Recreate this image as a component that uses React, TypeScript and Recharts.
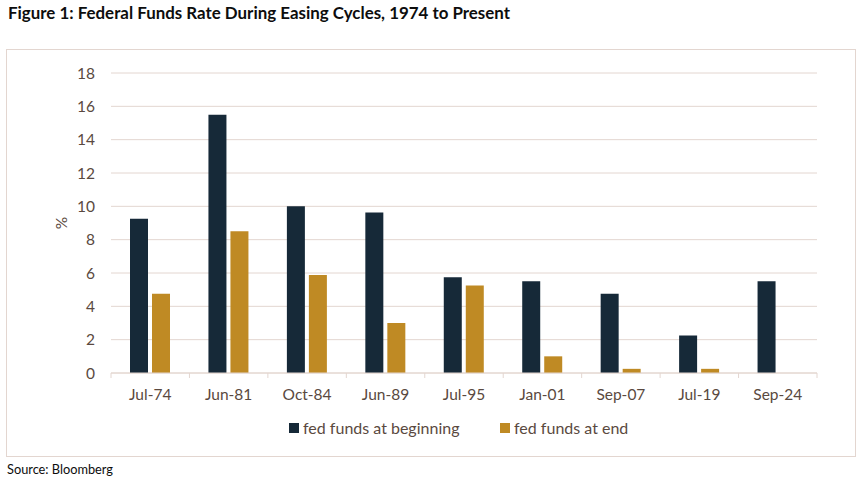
import React from 'react';
import { BarChart, Bar, XAxis, YAxis, CartesianGrid, Legend } from 'recharts';

const categories = ['Jul-74', 'Jun-81', 'Oct-84', 'Jun-89', 'Jul-95', 'Jan-01', 'Sep-07', 'Jul-19', 'Sep-24'];
const fedFundsAtBeginning = [9.25, 15.5, 10.0, 9.625, 5.75, 5.5, 4.75, 2.25, 5.5];
const fedFundsAtEnd: (number | null)[] = [4.75, 8.5, 5.875, 3.0, 5.25, 1.0, 0.25, 0.25, null];
const yTicks = [0, 2, 4, 6, 8, 10, 12, 14, 16, 18];
const seriesNames = ['fed funds at beginning', 'fed funds at end'];
const titleText = 'Figure 1: Federal Funds Rate During Easing Cycles, 1974 to Present';
const sourceText = 'Source: Bloomberg';

const data = categories.map((c, i) => ({
  name: c,
  begin: fedFundsAtBeginning[i],
  end: fedFundsAtEnd[i],
}));

const W = 863;
const H = 486;
const MARGIN = { top: 73, right: 46, left: 51, bottom: 83 };
const Y_AXIS_W = 60;
const X_AXIS_H = 30;
const PLOT_W = W - MARGIN.left - MARGIN.right - Y_AXIS_W;
const BAND = PLOT_W / categories.length;

const DARK = '#162938';
const GOLD = '#bf8a24';
const TEXT = '#5a4940';
const GRID = '#e3d6d0';
const FONT = 'Lato, "Open Sans", sans-serif';

const XTick = (props: any) => {
  const { x, y, index } = props;
  const axisY = y - 8;
  const left = x - BAND / 2;
  const right = x + BAND / 2;
  return (
    <g>
      <line x1={left} y1={axisY} x2={left} y2={axisY + 5} stroke={GRID} strokeWidth={1} />
      {index === categories.length - 1 && (
        <line x1={right} y1={axisY} x2={right} y2={axisY + 5} stroke={GRID} strokeWidth={1} />
      )}
      <text x={x} y={y + 19} textAnchor="middle" fill={TEXT} fontSize={15.5} fontFamily={FONT}>
        {props.payload.value}
      </text>
    </g>
  );
};

const LegendContent = () => {
  const items = [
    { name: seriesNames[0], color: DARK, left: 289 },
    { name: seriesNames[1], color: GOLD, left: 500 },
  ];
  return (
    <div style={{ position: 'relative', width: W, height: 24 }}>
      {items.map((it) => (
        <div
          key={it.name}
          style={{
            position: 'absolute',
            left: it.left,
            top: 0,
            display: 'flex',
            alignItems: 'center',
            whiteSpace: 'nowrap',
          }}
        >
          <span style={{ display: 'inline-block', width: 10, height: 10, background: it.color, marginRight: 4 }} />
          <span style={{ color: TEXT, fontSize: 16, fontFamily: FONT, lineHeight: '20px' }}>{it.name}</span>
        </div>
      ))}
    </div>
  );
};

export default function App() {
  return (
    <div style={{ position: 'absolute', left: 0, top: 0, width: W, height: H, background: '#fff' }}>
      <svg width={W} height={H} style={{ position: 'absolute', left: 0, top: 0 }}>
        <text
          x={8}
          y={19}
          fontFamily={FONT}
          fontWeight="bold"
          fontSize={17}
          fill="#0d0d0d"
          textLength={502}
          lengthAdjust="spacingAndGlyphs"
        >
          {titleText}
        </text>
        <rect x={6.5} y={49.5} width={849} height={407} fill="none" stroke={GRID} strokeWidth={1} />
        <text
          x={7}
          y={474}
          fontFamily={FONT}
          fontSize={13}
          fill="#0d0d0d"
          textLength={106}
          lengthAdjust="spacingAndGlyphs"
        >
          {sourceText}
        </text>
      </svg>
      <div style={{ position: 'absolute', left: 0, top: 0 }}>
        <BarChart width={W} height={H} data={data} margin={MARGIN} barSize={18} barGap={4}>
          <CartesianGrid vertical={false} stroke={GRID} strokeWidth={1} />
          <XAxis
            dataKey="name"
            height={X_AXIS_H}
            axisLine={{ stroke: GRID }}
            tickLine={false}
            tick={<XTick />}
            interval={0}
          />
          <YAxis
            width={Y_AXIS_W}
            domain={[0, 18]}
            ticks={yTicks}
            axisLine={false}
            tickLine={false}
            tickMargin={10}
            tick={{ fill: TEXT, fontSize: 15.5, fontFamily: FONT }}
            label={{
              value: '%',
              angle: -90,
              position: 'insideLeft',
              offset: 0,
              dx: 10,
              style: { fill: TEXT, fontSize: 15.5, fontFamily: FONT, textAnchor: 'middle' },
            }}
          />
          <Legend
            layout="horizontal"
            verticalAlign="middle"
            align="center"
            content={<LegendContent />}
            wrapperStyle={{ position: 'absolute', top: 418, left: 0, width: W }}
          />
          <Bar dataKey="begin" name={seriesNames[0]} fill={DARK} isAnimationActive={false} />
          <Bar dataKey="end" name={seriesNames[1]} fill={GOLD} isAnimationActive={false} />
        </BarChart>
      </div>
    </div>
  );
}
